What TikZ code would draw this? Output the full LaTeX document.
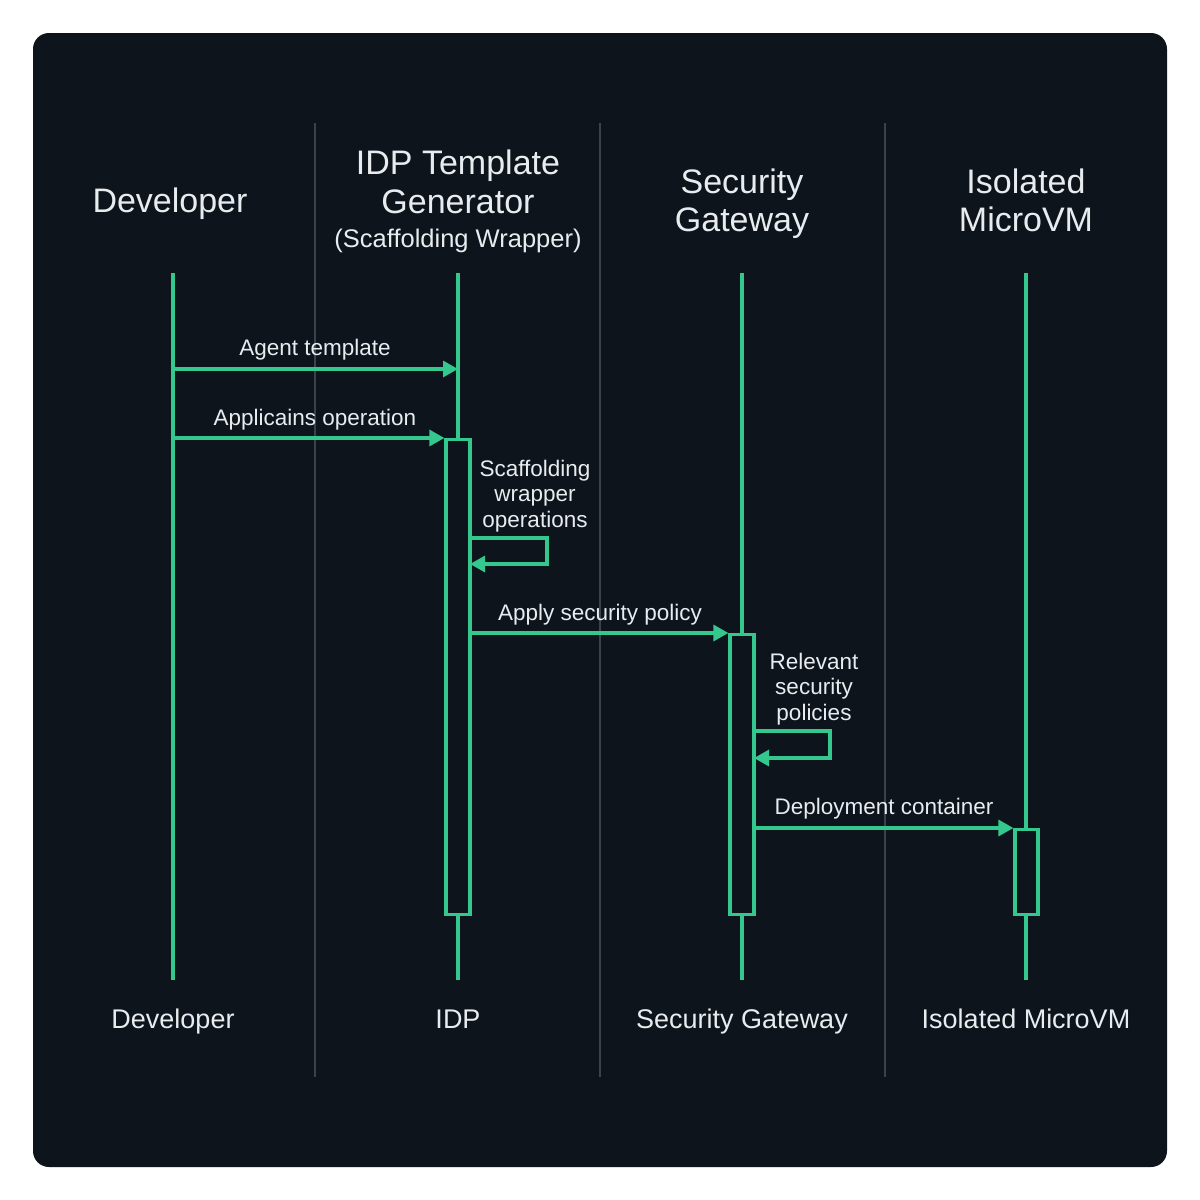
\documentclass[tikz,border=0pt]{standalone}
\usepackage{fontspec}
\setmainfont{Liberation Sans}
\usetikzlibrary{arrows.meta}
\definecolor{bgdark}{HTML}{0E141C}
\definecolor{sepgray}{HTML}{3A434C}
\definecolor{lifegreen}{HTML}{34C88E}
\definecolor{txtwhite}{HTML}{E8ECEF}
\begin{document}
\begin{tikzpicture}[x=1pt,y=-1pt,
  hdr/.style={text=txtwhite,anchor=base,inner sep=0pt,font=\fontsize{34}{39}\selectfont},
  sub/.style={text=txtwhite,anchor=base,inner sep=0pt,font=\fontsize{25.5}{30}\selectfont},
  ftr/.style={text=txtwhite,anchor=base,inner sep=0pt,font=\fontsize{27}{32}\selectfont},
  msglbl/.style={text=txtwhite,align=center,font=\fontsize{22.5}{25.5}\selectfont},
  sep/.style={draw=sepgray,line width=1.3pt},
  life/.style={draw=lifegreen,line width=3.2pt},
  actbox/.style={draw=lifegreen,line width=3.2pt,fill=bgdark},
  msg/.style={draw=lifegreen,line width=3.2pt,-{Triangle[length=15pt,width=16pt]}}]
\useasboundingbox (0,0) rectangle (1200,1200);
\fill[white] (0,0) rectangle (1200,1200);
\fill[bgdark,rounded corners=16pt] (33,33) rectangle (1167,1167);
% separators
\draw[sep] (315,123) -- (315,1077);
\draw[sep] (600,123) -- (600,1077);
\draw[sep] (885,123) -- (885,1077);
% headers
\node[hdr] (hDev) at (170,212) {Developer};
\node[hdr] (hIdpA) at (458,174) {IDP Template};
\node[hdr] (hIdpB) at (458,213) {Generator};
\node[sub] (hIdpSub) at (458,247) {(Scaffolding Wrapper)};
\node[hdr] (hSgA) at (742,193) {Security};
\node[hdr] (hSgB) at (742,231) {Gateway};
\node[hdr] (hVmA) at (1026,193) {Isolated};
\node[hdr] (hVmB) at (1026,231) {MicroVM};
% lifeline coordinates
\coordinate (devTop) at (173,273); \coordinate (devBot) at (173,980);
\coordinate (idpTop) at (458,273); \coordinate (idpBot) at (458,980);
\coordinate (sgTop) at (742,273); \coordinate (sgBot) at (742,980);
\coordinate (vmTop) at (1026,273); \coordinate (vmBot) at (1026,980);
\draw[life] (devTop) -- (devBot);
\draw[life] (idpTop) -- (idpBot);
\draw[life] (sgTop) -- (sgBot);
\draw[life] (vmTop) -- (vmBot);
% activation boxes
\node[actbox,minimum width=24pt,minimum height=475pt,inner sep=0pt,anchor=north] (actIdp) at (458,438) {};
\node[actbox,minimum width=24pt,minimum height=280pt,inner sep=0pt,anchor=north] (actSg) at (742,633) {};
\node[actbox,minimum width=23pt,minimum height=85pt,inner sep=0pt,anchor=north] (actVm) at (1026.5,828) {};
% footers
\node[ftr] (fDev) at (173,1028) {Developer};
\node[ftr] (fIdp) at (458,1028) {IDP};
\node[ftr] (fSg) at (742,1028) {Security Gateway};
\node[ftr] (fVm) at (1026,1028) {Isolated MicroVM};
% messages
\coordinate (m1s) at (173,369); \coordinate (m1e) at (458,369);
\draw[msg] (m1s) -- (m1e);
\node[msglbl] (l1) at (315,350) {Agent template};
\coordinate (m2s) at (173,438);
\draw[msg] (m2s) -- (actIdp.north west);
\node[msglbl] (l2) at (315,420) {Applicains operation};
% self message IDP
\coordinate (s1a) at (470,538); \coordinate (s1b) at (547,538);
\coordinate (s1c) at (547,564); \coordinate (s1d) at (470,564);
\draw[msg] (s1a) -- (s1b) -- (s1c) -- (s1d);
\node[msglbl] (l3) at (535,496) {Scaffolding\\wrapper\\operations};
% apply security policy
\coordinate (m3s) at (470,633);
\draw[msg] (m3s) -- (actSg.north west);
\node[msglbl] (l4) at (600,615) {Apply security policy};
% self message SG
\coordinate (s2a) at (754,731); \coordinate (s2b) at (830,731);
\coordinate (s2c) at (830,758); \coordinate (s2d) at (754,758);
\draw[msg] (s2a) -- (s2b) -- (s2c) -- (s2d);
\node[msglbl] (l5) at (814,689) {Relevant\\security\\policies};
% deployment
\coordinate (m4s) at (754,828);
\draw[msg] (m4s) -- (actVm.north west);
\node[msglbl] (l6) at (884,809) {Deployment container};
\end{tikzpicture}
\end{document}
